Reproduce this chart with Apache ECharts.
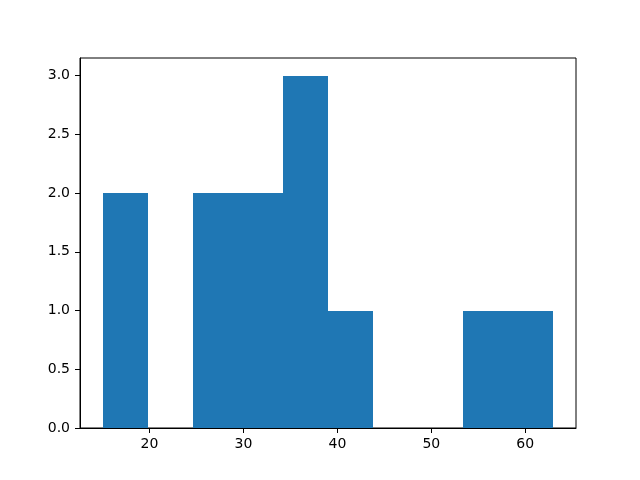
<!DOCTYPE html>
<html>
<head>
<meta charset="utf-8">
<script src="https://cdn.jsdelivr.net/npm/echarts@6/dist/echarts.min.js"></script>
<style>
  html, body { margin: 0; padding: 0; background: #fff; }
  #chart { width: 640px; height: 480px; }
</style>
</head>
<body>
<div id="chart"></div>
<script>
// histogram bins (10 bins from 15 to 63)
const binEdges = [15, 19.8, 24.6, 29.4, 34.2, 39, 43.8, 48.6, 53.4, 58.2, 63];
const counts = [2, 0, 2, 2, 3, 1, 0, 0, 1, 1];
const xTicks = [20, 30, 40, 50, 60];
const yTicks = [0, 0.5, 1, 1.5, 2, 2.5, 3];

const bins = counts.map((c, i) => [binEdges[i], binEdges[i + 1], c]);

const span = binEdges[binEdges.length - 1] - binEdges[0];
const xMin = binEdges[0] - span * 0.05;
const xMax = binEdges[binEdges.length - 1] + span * 0.05;
const yMax = Math.max(...counts) * 1.05;

const font = 'DejaVu Sans';

const initChart = () => {
  const chart = echarts.init(document.getElementById('chart'), null, { renderer: 'canvas' });
  chart.setOption({
    animation: false,
    grid: {
      left: 80, right: 64, top: 58, bottom: 52,
      show: true, borderColor: '#000', borderWidth: 1, backgroundColor: '#fff'
    },
    xAxis: {
      type: 'value',
      min: xMin,
      max: xMax,
      splitLine: { show: false },
      axisLine: { lineStyle: { color: '#000', width: 1 } },
      axisTick: { length: 5, lineStyle: { color: '#000' }, customValues: xTicks },
      axisLabel: {
        customValues: xTicks, color: '#000', fontSize: 14, fontFamily: font, margin: 9
      }
    },
    yAxis: {
      type: 'value',
      min: 0,
      max: yMax,
      splitLine: { show: false },
      axisLine: { show: true, lineStyle: { color: '#000', width: 1 } },
      axisTick: { show: true, length: 5, lineStyle: { color: '#000' }, customValues: yTicks },
      axisLabel: {
        customValues: yTicks, color: '#000', fontSize: 14, fontFamily: font, margin: 10,
        formatter: (v) => v.toFixed(1)
      }
    },
    series: [{
      type: 'custom',
      data: bins,
      encode: { x: [0, 1], y: 2 },
      renderItem: (params, api) => {
        // snap to whole pixels so neighbouring bars meet without a seam
        const p0 = api.coord([api.value(0), api.value(2)]).map(Math.round);
        const p1 = api.coord([api.value(1), 0]).map(Math.round);
        return {
          type: 'rect',
          shape: { x: p0[0], y: p0[1], width: p1[0] - p0[0], height: p1[1] - p0[1] },
          style: { fill: '#1f77b4' }
        };
      }
    }]
  });
};

window.addEventListener('load', () => {
  initChart();
});
</script>
</body>
</html>
